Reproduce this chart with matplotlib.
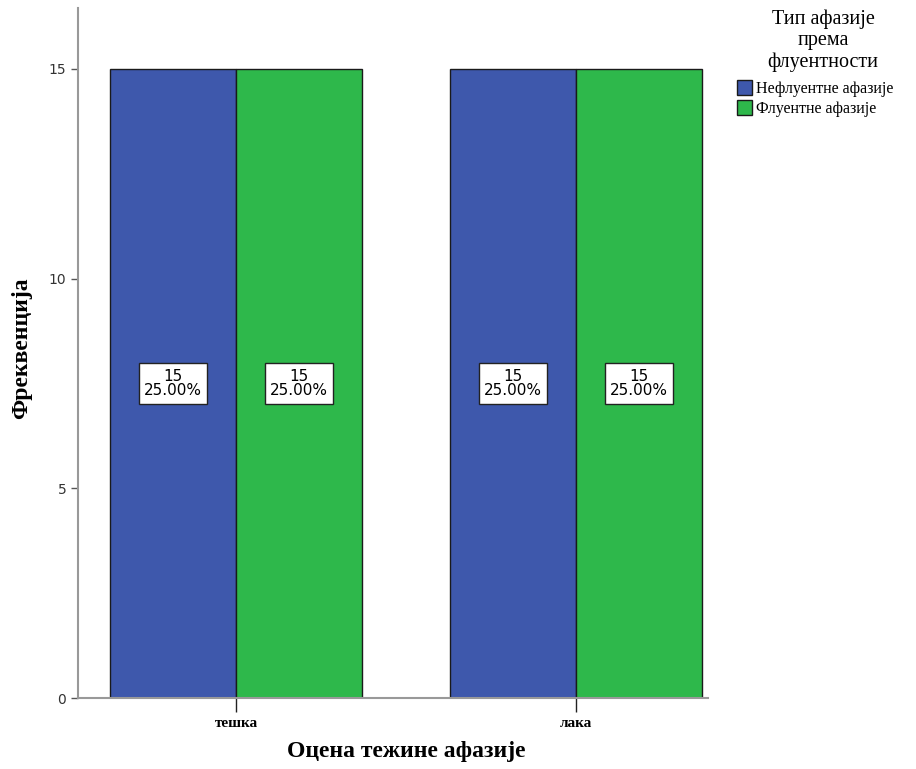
import matplotlib
matplotlib.use("Agg")
import matplotlib.pyplot as plt
import numpy as np

categories = ["тешка", "лака"]
series_names = ["Нефлуентне афазије", "Флуентне афазије"]
counts = {"Нефлуентне афазије": [15, 15], "Флуентне афазије": [15, 15]}
percents = {"Нефлуентне афазије": [25.00, 25.00], "Флуентне афазије": [25.00, 25.00]}
colors = ["#3E58AC", "#2EB84B"]
yticks = [0, 5, 10, 15]

fig = plt.figure(figsize=(9.16, 7.69), dpi=100)
ax = fig.add_axes([78/916, 1-698/769, (708-78)/916, (698-8)/769])

x = np.arange(len(categories))
w = 126/340
for i, name in enumerate(series_names):
    offs = (i - 0.5) * w
    vals = counts[name]
    ax.bar(x + offs, vals, width=w, color=colors[i], edgecolor="#1a1a1a", linewidth=1.0, label=name, zorder=2)
    for xi, v, p in zip(x, vals, percents[name]):
        ax.text(xi + offs, v/2, f"{v}\n{p:.2f}%", ha="center", va="center", fontsize=11,
                family="DejaVu Sans", linespacing=0.95, zorder=3,
                bbox=dict(boxstyle="square,pad=0.35", fc="white", ec="#222222", lw=1))

ax.set_xlim(-158/340, 1 + 132/340)
ax.set_ylim(0, 690/(629/15))
ax.set_xticks(x)
ax.set_xticklabels(categories, family="Liberation Serif", fontsize=11, fontweight="bold")
ax.set_yticks(yticks)
ax.set_yticklabels([str(t) for t in yticks], family="DejaVu Sans", fontsize=10, color="#333333")
ax.tick_params(axis="y", length=5, color="#555555", width=1)
ax.tick_params(axis="x", length=10, color="#222222", width=1, direction="out")
for s in ["top", "right"]:
    ax.spines[s].set_visible(False)
ax.spines["left"].set_color("#999999")
ax.spines["left"].set_linewidth(1.5)
ax.spines["bottom"].set_color("#999999")
ax.spines["bottom"].set_linewidth(1.5)

fig.text(22/916, 1-348/769, "Фреквенција", rotation=90, ha="center", va="center",
         family="Liberation Serif", fontsize=17, fontweight="bold")
fig.text(406/916, 1-751/769, "Оцена тежине афазије", ha="center", va="center",
         family="Liberation Serif", fontsize=17, fontweight="bold")

fig.text(823/916, 1-41/769, "Тип афазије\nпрема\nфлуентности", ha="center", va="center",
         family="Liberation Serif", fontsize=14.5, linespacing=1.15)
leg = fig.legend(loc="upper left", bbox_to_anchor=(737/916, 1-80/769), frameon=False,
                 prop={"family": "Liberation Serif", "size": 11.5}, handlelength=0.95, handleheight=1.05,
                 handletextpad=0.25, labelspacing=0.2, borderpad=0, borderaxespad=0)

fig.savefig("out.png", dpi=100)
